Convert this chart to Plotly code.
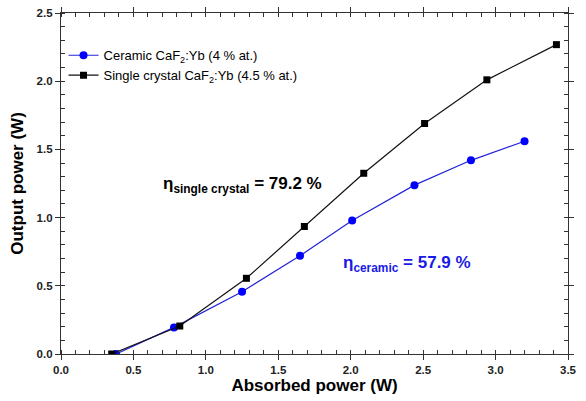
import plotly.graph_objects as go

# Ceramic CaF2:Yb (4 % at.)
ceramic_x = [0.38, 0.78, 1.25, 1.65, 2.01, 2.44, 2.83, 3.20]
ceramic_y = [0.0, 0.195, 0.457, 0.72, 0.978, 1.238, 1.42, 1.56]

# Single crystal CaF2:Yb (4.5 % at.)
crystal_x = [0.35, 0.82, 1.28, 1.68, 2.09, 2.51, 2.94, 3.42]
crystal_y = [0.0, 0.205, 0.555, 0.935, 1.325, 1.69, 2.01, 2.268]

FONT = "Liberation Sans, Arial, sans-serif"

fig = go.Figure()
fig.add_trace(go.Scatter(
    x=ceramic_x, y=ceramic_y, mode="lines+markers",
    name="Ceramic CaF<sub>2</sub>:Yb (4 % at.)",
    line=dict(color="#2323d8", width=1.2),
    marker=dict(symbol="circle", size=8, color="#0000ff"),
))
fig.add_trace(go.Scatter(
    x=crystal_x, y=crystal_y, mode="lines+markers",
    name="Single crystal CaF<sub>2</sub>:Yb (4.5 % at.)",
    line=dict(color="#111111", width=1.2),
    marker=dict(symbol="square", size=7, color="#000000"),
))

fig.add_annotation(
    x=1.255, y=1.24, xref="x", yref="y", xanchor="center", yanchor="middle",
    text="<b>η<sub>single crystal</sub> = 79.2 %</b>", showarrow=False,
    font=dict(family=FONT, size=17, color="#000000"),
)
fig.add_annotation(
    x=2.39, y=0.66, xref="x", yref="y", xanchor="center", yanchor="middle",
    text="<b>η<sub>ceramic</sub> = 57.9 %</b>", showarrow=False,
    font=dict(family=FONT, size=17, color="#1a1ae6"),
)

axis_common = dict(
    showline=True, linecolor="#333333", linewidth=1.2, mirror="ticks",
    ticks="outside", ticklen=5, tickwidth=1, tickcolor="#333333",
    showgrid=False, zeroline=False, automargin=False,
    tickfont=dict(family=FONT, size=11.5, color="#222222", weight="bold"),
    minor=dict(ticks="inside", ticklen=4, tickcolor="#333333", showgrid=False),
)

fig.update_layout(
    width=586, height=401,
    margin=dict(l=61, r=18, t=13, b=47),
    plot_bgcolor="white", paper_bgcolor="white",
    font=dict(family=FONT, color="#000000"),
    xaxis=dict(range=[0, 3.5], dtick=0.5, tickformat=".1f",
               title=dict(text="<b>Absorbed power (W)</b>", standoff=3,
                          font=dict(family=FONT, size=17, color="#000000")),
               **axis_common),
    yaxis=dict(range=[0, 2.5], dtick=0.5, tickformat=".1f",
               title=dict(text="<b>Output power (W)</b>", standoff=8,
                          font=dict(family=FONT, size=17, color="#000000")),
               **axis_common),
    legend=dict(x=0.005, y=0.92, xanchor="left", yanchor="top",
                bgcolor="rgba(0,0,0,0)", itemwidth=30, tracegroupgap=0,
                font=dict(family=FONT, size=13, color="#000000")),
)

# drop the default page margin so the figure sits at the window's corner
fig.write_html("out.html", config={"displayModeBar": False},
               post_script="document.body.style.margin='0';")
